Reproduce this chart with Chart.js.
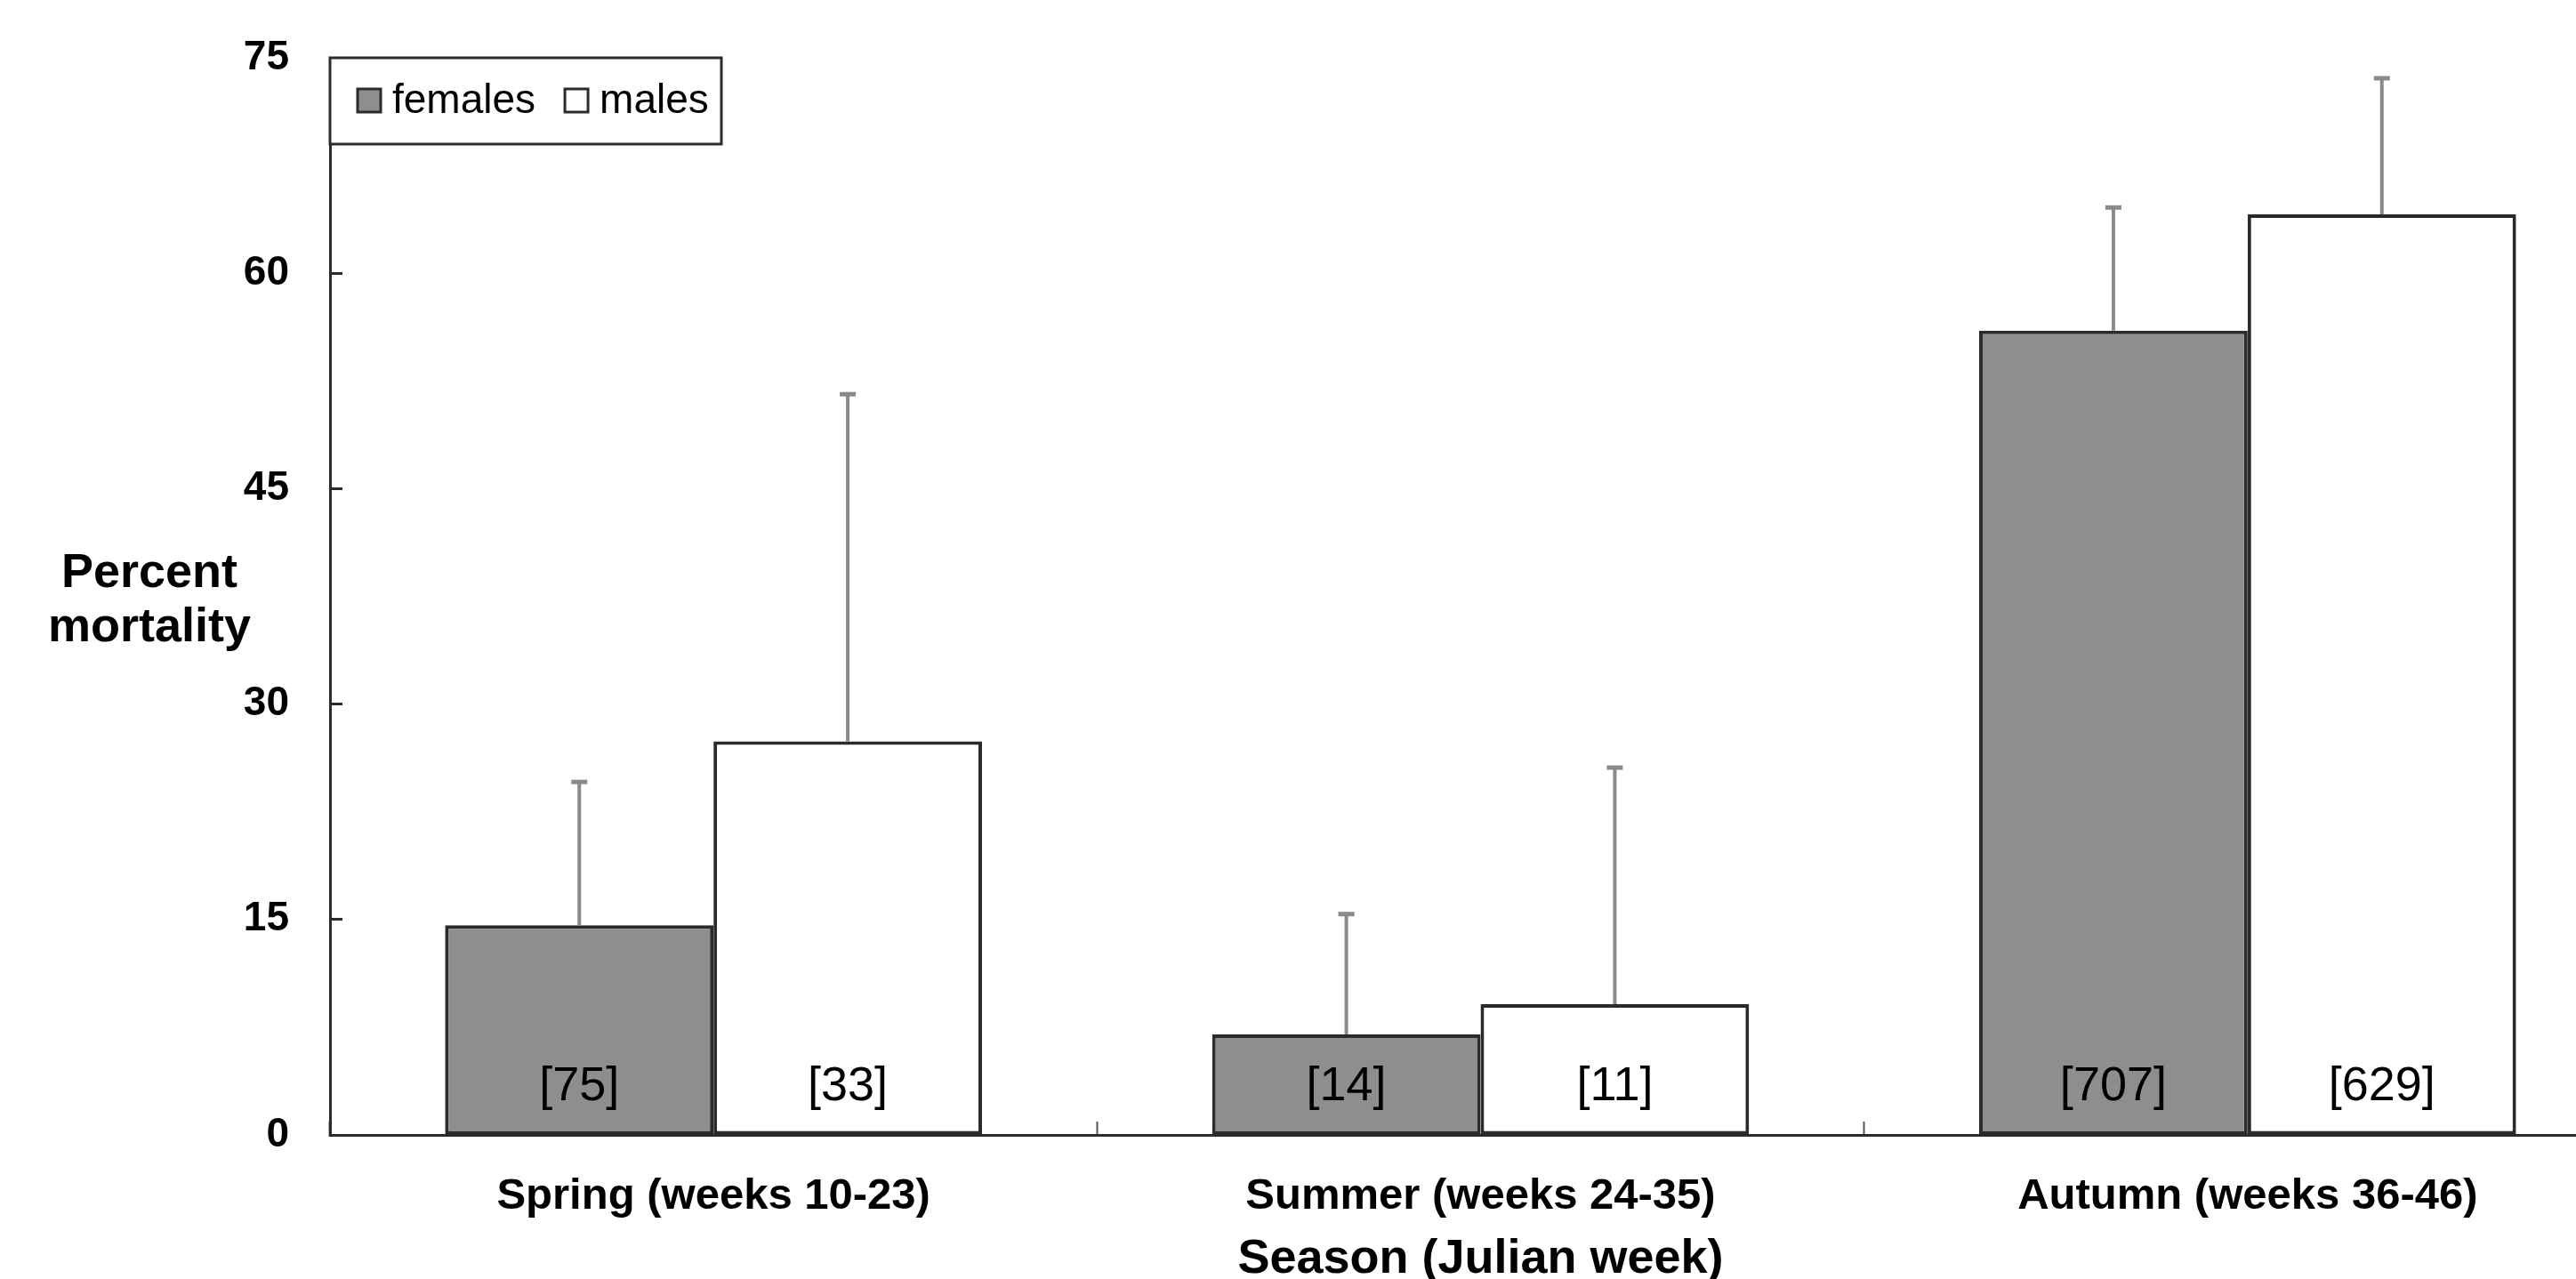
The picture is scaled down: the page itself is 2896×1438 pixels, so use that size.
<!DOCTYPE html>
<html>
<head>
<meta charset="utf-8">
<script src="https://cdn.jsdelivr.net/npm/chart.js@4.4.0/dist/chart.umd.min.js"></script>
<style>
  html, body { margin: 0; padding: 0; background: #ffffff; overflow: hidden; }
  #wrap { position: absolute; left: 0; top: 0; width: 2960px; height: 1438px; }
</style>
</head>
<body>
<div id="wrap"><canvas id="c" width="2960" height="1438"></canvas></div>
<script>
// Seasonal mortality by sex.
const seasons = ["Spring (weeks 10-23)", "Summer (weeks 24-35)", "Autumn (weeks 36-46)"];
const femalesPct = [14.6, 7.0, 56.0];
const malesPct = [27.4, 9.1, 64.1];
// upper end of each error whisker
const femalesErrTop = [24.7, 15.5, 64.7];
const malesErrTop = [51.7, 25.7, 73.7];
// sample sizes printed inside the bars
const femalesN = [75, 14, 707];
const malesN = [33, 11, 629];
const yTicks = [0, 15, 30, 45, 60, 75];

const FONT = '"Liberation Sans", Arial, Helvetica, sans-serif';
const INK = "#000000";
const LINE = "#2b2b2b";
const GRAY = "#8e8e8e";
const WHISKER = "#8a8a8a";

// whiskers (upper only) + [n] labels near the base of each bar
const barExtras = {
  id: "barExtras",
  afterDatasetsDraw(chart) {
    const { ctx } = chart;
    const y = chart.scales.y;
    const base = y.getPixelForValue(0);
    chart.data.datasets.forEach((ds, di) => {
      const meta = chart.getDatasetMeta(di);
      meta.data.forEach((bar, i) => {
        const top = y.getPixelForValue(ds.errTop[i]);
        ctx.save();
        ctx.strokeStyle = WHISKER;
        ctx.lineWidth = 4;
        ctx.beginPath();
        ctx.moveTo(bar.x, bar.y);
        ctx.lineTo(bar.x, top);
        ctx.stroke();
        ctx.lineWidth = 5;
        ctx.beginPath();
        ctx.moveTo(bar.x - 9, top + 2);
        ctx.lineTo(bar.x + 9, top + 2);
        ctx.stroke();
        ctx.fillStyle = INK;
        ctx.font = "54px " + FONT;
        ctx.textAlign = "center";
        ctx.textBaseline = "middle";
        ctx.fillText("[" + ds.n[i] + "]", bar.x, base - 54);
        ctx.restore();
      });
    });
  },
};

// boxed legend in the top-left corner of the plot
const boxLegend = {
  id: "boxLegend",
  afterDraw(chart) {
    const { ctx, chartArea } = chart;
    const x0 = chartArea.left, y0 = chartArea.top, w = 440, h = 97;
    ctx.save();
    ctx.fillStyle = "#ffffff";
    ctx.fillRect(x0, y0, w, h);
    ctx.strokeStyle = LINE;
    ctx.lineWidth = 3;
    ctx.strokeRect(x0, y0, w, h);
    ctx.font = "46px " + FONT;
    ctx.textBaseline = "middle";
    ctx.textAlign = "left";
    const cy = y0 + 48;
    let x = x0 + 31;
    chart.data.datasets.forEach((ds) => {
      ctx.fillStyle = ds.backgroundColor;
      ctx.fillRect(x, cy - 13, 26, 26);
      ctx.strokeStyle = LINE;
      ctx.lineWidth = 3;
      ctx.strokeRect(x, cy - 13, 26, 26);
      ctx.fillStyle = INK;
      ctx.fillText(ds.label, x + 39, cy + 1);
      x += 39 + ctx.measureText(ds.label).width + 33;
    });
    ctx.restore();
  },
};

// horizontal two-line y title
const yTitle = {
  id: "yTitle",
  afterDraw(chart) {
    const { ctx, chartArea } = chart;
    const cy = (chartArea.top + chartArea.bottom) / 2 + 5;
    ctx.save();
    ctx.fillStyle = INK;
    ctx.font = "bold 54px " + FONT;
    ctx.textAlign = "center";
    ctx.textBaseline = "middle";
    ctx.fillText("Percent", 168, cy - 30);
    ctx.fillText("mortality", 168, cy + 31);
    ctx.restore();
  },
};

new Chart(document.getElementById("c"), {
  type: "bar",
  data: {
    labels: seasons,
    datasets: [
      {
        label: "females",
        data: femalesPct,
        errTop: femalesErrTop,
        n: femalesN,
        backgroundColor: GRAY,
        borderColor: LINE,
        borderWidth: 4,
        borderSkipped: false,
      },
      {
        label: "males",
        data: malesPct,
        errTop: malesErrTop,
        n: malesN,
        backgroundColor: "#ffffff",
        borderColor: LINE,
        borderWidth: 4,
        borderSkipped: false,
      },
    ],
  },
  options: {
    responsive: false,
    animation: false,
    devicePixelRatio: 1,
    categoryPercentage: 0.7,
    barPercentage: 1.0,
    layout: { padding: { left: 0, top: 65, right: 2, bottom: 0 } },
    plugins: { legend: { display: false }, tooltip: { enabled: false } },
    scales: {
      x: {
        offset: true,
        grid: { offset: true, drawOnChartArea: false, tickLength: -15, tickColor: "#555555", tickWidth: 2 },
        border: { color: LINE, width: 3 },
        ticks: { color: INK, padding: 55, font: { family: FONT, size: 49, weight: "bold" }, maxRotation: 0 },
        title: {
          display: true,
          text: "Season (Julian week)",
          color: INK,
          padding: 0,
          font: { family: FONT, size: 54, weight: "bold", lineHeight: 0.8 },
        },
        afterFit: (s) => { s.height = 162; },
      },
      y: {
        min: 0,
        max: 75,
        afterBuildTicks: (s) => { s.ticks = yTicks.map((v) => ({ value: v })); },
        grid: { drawOnChartArea: false, tickLength: -14, tickColor: LINE, tickWidth: 3 },
        border: { color: LINE, width: 3 },
        ticks: { color: INK, padding: 60, font: { family: FONT, size: 46, weight: "bold" } },
        afterFit: (s) => {
          s.width = 371;
          s.paddingTop = 0;
          s.paddingBottom = 0;
        },
      },
    },
  },
  plugins: [barExtras, boxLegend, yTitle],
});
</script>
</body>
</html>
